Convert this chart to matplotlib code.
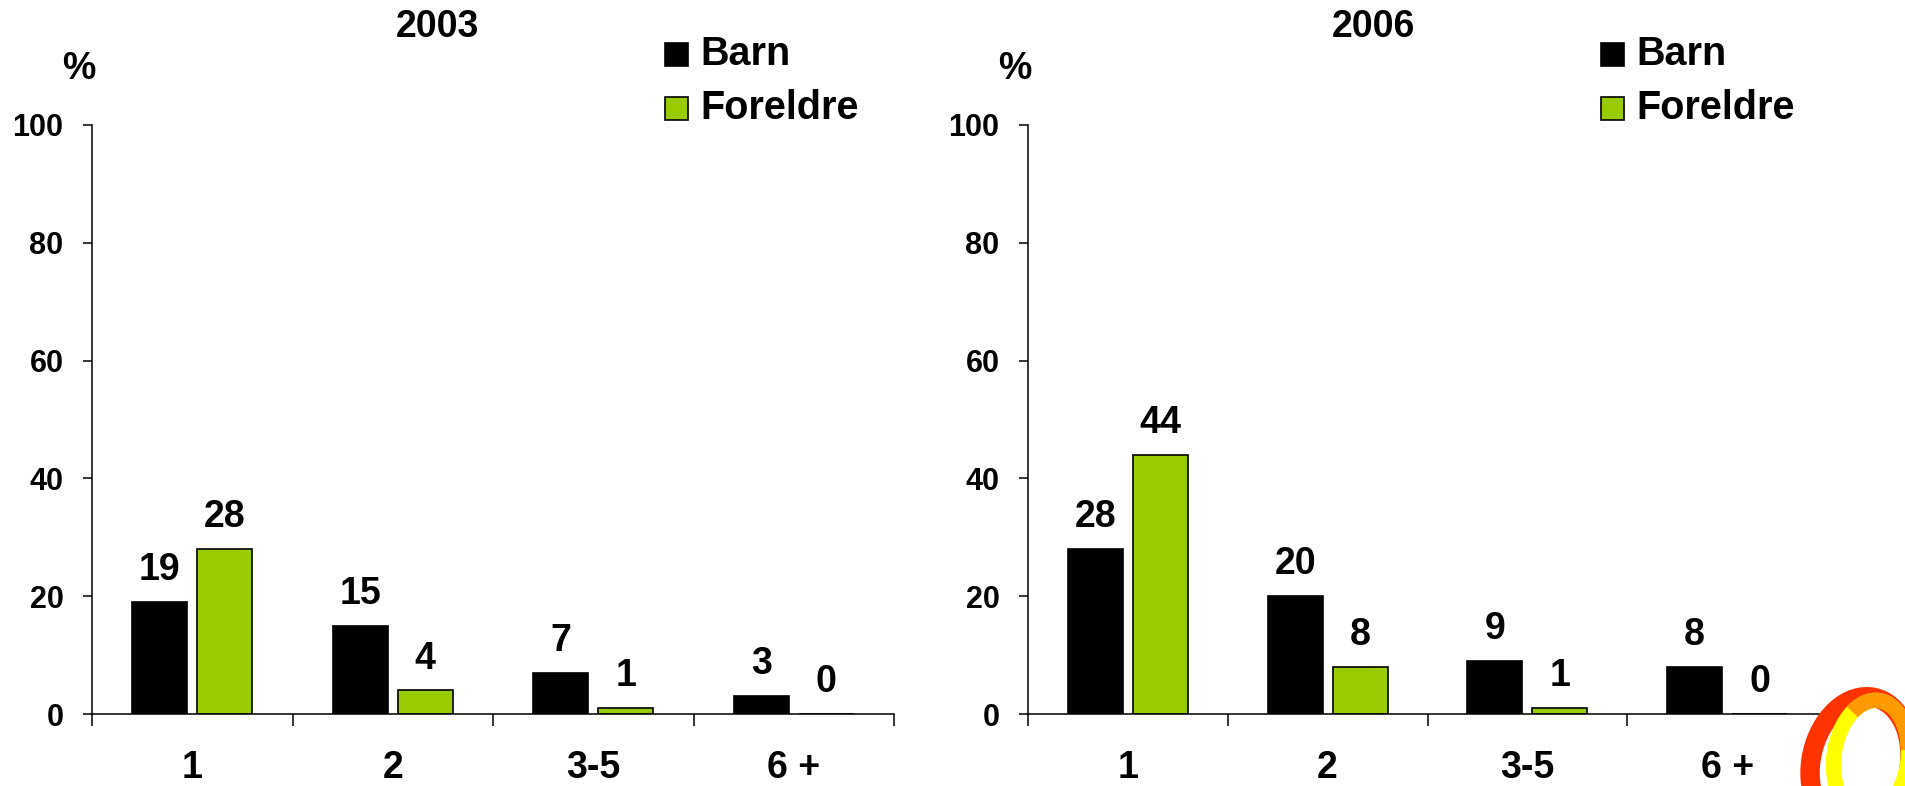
import matplotlib
matplotlib.use("Agg")
import matplotlib.pyplot as plt
import numpy as np
from matplotlib.patches import Rectangle, Ellipse, Arc
from matplotlib.transforms import IdentityTransform

plt.rcParams['font.family'] = ['Liberation Sans', 'DejaVu Sans']
plt.rcParams['font.weight'] = 'bold'

categories = ["1", "2", "3-5", "6 +"]
titles = ["2003", "2006"]
barn_2003 = [19, 15, 7, 3]
foreldre_2003 = [28, 4, 1, 0]
barn_2006 = [28, 20, 9, 8]
foreldre_2006 = [44, 8, 1, 0]
series_names = ["Barn", "Foreldre"]
yticks = [0, 20, 40, 60, 80, 100]

W, H = 1905, 786
fig = plt.figure(figsize=(W / 100, H / 100), dpi=100)

BLACK = "#000000"
GREEN = "#99cc00"

def px_axes(x0, x1, ytop, ybot):
    return [x0 / W, 1 - ybot / H, (x1 - x0) / W, (ybot - ytop) / H]

panels = [
    (px_axes(92, 894, 125, 714), barn_2003, foreldre_2003, titles[0], 0),
    (px_axes(1028, 1827, 125, 714), barn_2006, foreldre_2006, titles[1], 936),
]

bw = 0.275
off = 0.1625
for rect, barn, fore, title, dx in panels:
    ax = fig.add_axes(rect)
    x = np.arange(len(categories))
    b1 = ax.bar(x - off, barn, width=bw, color=BLACK, edgecolor=BLACK, linewidth=1.2)
    b2 = ax.bar(x + off, fore, width=bw, color=GREEN, edgecolor=BLACK, linewidth=1.2)
    for bars in (b1, b2):
        for r in bars:
            h = r.get_height()
            ax.annotate(f"{h:g}", (r.get_x() + r.get_width() / 2, h),
                        xytext=(0, 10), textcoords="offset points",
                        ha="center", va="bottom", fontsize=27, fontweight="bold")
    ax.set_xlim(-0.5, len(categories) - 0.5)
    ax.set_ylim(0, 100)
    ax.set_yticks(yticks)
    ax.set_yticklabels([str(v) for v in yticks], fontsize=22, fontweight="bold")
    ax.tick_params(axis="y", direction="out", length=6.5, width=1.1, pad=14)
    ax.set_xticks(np.arange(len(categories) + 1) - 0.5)
    ax.set_xticklabels([])
    ax.set_xticks(x, minor=True)
    ax.set_xticklabels(categories, minor=True, fontsize=27, fontweight="bold")
    ax.tick_params(axis="x", which="major", direction="out", length=8.5, width=1.1)
    ax.tick_params(axis="x", which="minor", length=0, pad=26)
    for s in ("top", "right"):
        ax.spines[s].set_visible(False)
    for s in ("left", "bottom"):
        ax.spines[s].set_linewidth(1.1)
    ax.patch.set_visible(False)

    # title and % label
    fig.text((437 + dx) / W, 1 - 27 / H, title, ha="center", va="center",
             fontsize=27, fontweight="bold")
    fig.text((79 + dx) / W, 1 - 69 / H, "%", ha="center", va="center",
             fontsize=27, fontweight="bold")
    # legend
    for i, (name, col) in enumerate(zip(series_names, [BLACK, GREEN])):
        cy = 54 + i * 54
        fig.add_artist(Rectangle(((665 + dx) / W, 1 - (cy + 11.5) / H), 23 / W, 23 / H,
                                 transform=fig.transFigure, facecolor=col,
                                 edgecolor=BLACK, linewidth=1.2))
        fig.text((700 + dx) / W, 1 - cy / H, name, ha="left", va="center",
                 fontsize=28.5, fontweight="bold")

# logo (rings) bottom-right, pixel coordinates (y from bottom)
idt = IdentityTransform()
fig.add_artist(Ellipse((1860, H - 764), 98, 136, angle=-12, fill=False,
                       edgecolor="#ff3300", linewidth=14, transform=idt))
fig.add_artist(Ellipse((1871, H - 758), 74, 116, angle=-8, fill=False,
                       edgecolor="#ffff00", linewidth=11, transform=idt))
fig.add_artist(Arc((1871, H - 758), 74, 116, angle=-8, theta1=20, theta2=120,
                   edgecolor="#ff9900", linewidth=11, transform=idt))

fig.savefig("out.png", dpi=100)
